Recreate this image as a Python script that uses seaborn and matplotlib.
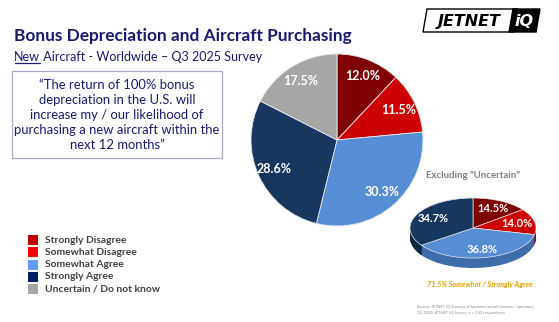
import matplotlib
matplotlib.use("Agg")
import matplotlib.pyplot as plt
import seaborn as sns
from matplotlib.patches import Rectangle, Polygon

# --- data -------------------------------------------------------------
categories = ["Strongly Disagree", "Somewhat Disagree", "Somewhat Agree",
              "Strongly Agree", "Uncertain / Do not know"]
all_responses = [12.0, 11.5, 30.3, 28.6, 17.5]
excl_uncertain = [14.5, 14.0, 36.8, 34.7]

pie_colors = ["#7F0000", "#CC0000", "#558ED5", "#17375E", "#A6A6A6"]
side_colors = ["#5A0000", "#990000", "#3D6DAA", "#0F2744"]
legend_colors = ["#C00000", "#FF0000", "#6699FF", "#002060", "#A6A6A6"]

title = "Bonus Depreciation and Aircraft Purchasing"
subtitle_rest = " Aircraft - Worldwide \u2013 Q3 2025 Survey"
quote = ("\u201cThe return of 100% bonus\ndepreciation in the U.S. will\n"
         "increase my / our likelihood of\npurchasing a new aircraft within the\n"
         "next 12 months\u201d")
excl_label = "Excluding \"Uncertain\""
agree_note = "71.5% Somewhat / Strongly Agree"
source = ("Source: JETNET iQ Surveys of business aircraft owners / operators;\n"
          "Q3 2025 JETNET iQ Survey; n = 342 respondents")

# --- figure -----------------------------------------------------------
sns.set_theme(style="white")
plt.rcParams["font.family"] = ["Lato", "DejaVu Sans"]

W, H = 559, 322
fig = plt.figure(figsize=(W / 100, H / 100), dpi=100)
fig.patch.set_facecolor("white")

# full-figure overlay in pixel coordinates (y downward)
bg = fig.add_axes([0, 0, 1, 1])
bg.set_xlim(0, W)
bg.set_ylim(H, 0)
bg.axis("off")

navy_text = "#1A1A6E"
bg.text(14, 36, title, fontsize=12.4, fontweight="bold", color=navy_text,
        va="center", ha="left")
t_new = bg.text(14, 57, "New", fontsize=9.0, color=navy_text, va="center", ha="left")
fig.canvas.draw()
bb = t_new.get_window_extent().transformed(bg.transData.inverted())
y_ul = max(bb.y0, bb.y1) - 0.5
bg.plot([bb.x0 + 0.5, bb.x1 - 0.5], [y_ul, y_ul], color=navy_text, lw=0.9)
bg.text(bb.x1, 57, subtitle_rest, fontsize=9.0, color=navy_text, va="center", ha="left")

# quote box
bg.add_patch(Rectangle((12, 71), 210, 87, fill=False, edgecolor="#A8A8CC", lw=0.9))
bg.text(117, 115, quote, fontsize=9.4, color=navy_text, ha="center", va="center",
        linespacing=1.3)

# legend
for i, (lab, col) in enumerate(zip(categories, legend_colors)):
    y = 240 + i * 12.3
    bg.add_patch(Rectangle((28, y - 5), 10, 10, facecolor=col, edgecolor="none"))
    bg.text(45, y, lab, fontsize=7.4, fontweight="bold", color="#404040", va="center")

# logo
bg.add_patch(Polygon([(427, 9), (518, 9), (514, 32), (423, 32)], closed=True,
                     facecolor="white", edgecolor="black", lw=1.0))
bg.add_patch(Polygon([(513, 9), (540, 9), (536, 32), (509, 32)], closed=True,
                     facecolor="black", edgecolor="black", lw=1.0))
bg.text(469, 21, "JETNET", fontsize=11.5, fontweight="bold", style="italic",
        family="DejaVu Sans", color="black", ha="center", va="center")
bg.text(524.5, 21, "iQ", fontsize=11.5, fontweight="bold", style="italic",
        family="DejaVu Sans", color="white", ha="center", va="center")

bg.text(473, 175, excl_label, fontsize=6.9, fontweight="bold", color="#7F7F7F",
        ha="center", va="center")
bg.text(480, 284, agree_note, fontsize=5.2, fontweight="bold", style="italic",
        color="#E0A000", ha="center", va="center")
bg.text(417, 310, source, fontsize=2.9, color="#8C8C8C", ha="left", va="center",
        linespacing=1.7)


def px_axes(x0, y0, x1, y1):
    return fig.add_axes([x0 / W, 1 - y1 / H, (x1 - x0) / W, (y1 - y0) / H])


def value_labels(vals):
    it = iter(vals)
    return lambda pct: f"{next(it):.1f}%"


# main pie
ax1 = px_axes(251, 54, 423, 226)
_, _, autotexts = ax1.pie(all_responses, colors=pie_colors, startangle=90,
                          counterclock=False, autopct=value_labels(all_responses),
                          pctdistance=0.8,
                          wedgeprops=dict(edgecolor="#E8E8E8", linewidth=0.6))
for t in autotexts:
    t.set_color("white")
    t.set_fontsize(9)
    t.set_fontweight("bold")
ax1.set_aspect("auto")
ax1.set_xlim(-1, 1)
ax1.set_ylim(-1, 1)
ax1.axis("off")

# tilted pie (excluding uncertain): extruded side then top face
depth = 0.33
ax2 = px_axes(410, 198, 536, 268)
n_layers = 14
for k in range(n_layers, 0, -1):
    ax2.pie(excl_uncertain, colors=side_colors, startangle=90, counterclock=False,
            center=(0, -depth * k / n_layers), wedgeprops=dict(linewidth=0))
_, _, auto2 = ax2.pie(excl_uncertain, colors=pie_colors[:4], startangle=90,
                      counterclock=False, autopct=value_labels(excl_uncertain),
                      pctdistance=0.72,
                      wedgeprops=dict(edgecolor="#E8E8E8", linewidth=0.5))
for t in auto2:
    t.set_color("white")
    t.set_fontsize(8)
    t.set_fontweight("bold")
ax2.set_aspect("auto")
ax2.set_xlim(-1, 1)
ax2.set_ylim(-1 - depth, 1)
ax2.axis("off")

fig.savefig("out.png", dpi=100, facecolor="white")
